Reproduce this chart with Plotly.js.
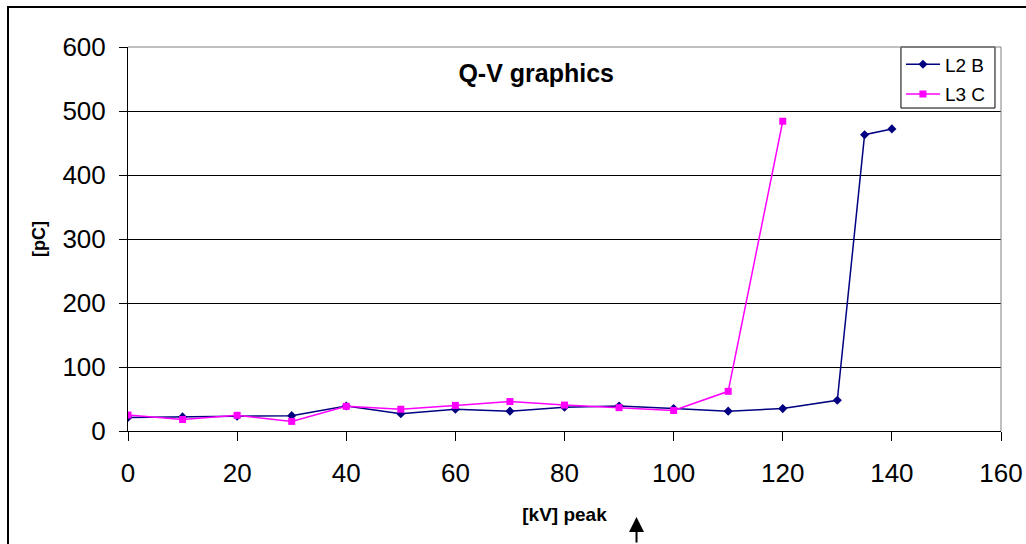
<!DOCTYPE html>
<html>
<head>
<meta charset="utf-8">
<script src="https://cdn.plot.ly/plotly-3.0.1.min.js"></script>
<style>
  html, body { margin: 0; padding: 0; background: #fff; overflow: hidden; }
  #wrap { position: relative; width: 1026px; height: 544px; }
  #chart { width: 1026px; height: 544px; }
  #frame { position: absolute; left: 7px; top: 6px; width: 1100px; height: 600px;
           border-left: 2px solid #000; border-top: 2px solid #000; pointer-events: none; }
</style>
</head>
<body>
<div id="wrap">
  <div id="chart"></div>
  <div id="frame"></div>
</div>
<script>
// Data
const xL2B = [0, 10, 20, 30, 40, 50, 60, 70, 80, 90, 100, 110, 120, 130, 135, 140];
const yL2B = [21, 22, 23, 24, 39, 27, 34, 31, 37, 39, 35, 31, 35, 48, 463, 472];
const xL3C = [0, 10, 20, 30, 40, 50, 60, 70, 80, 90, 100, 110, 120];
const yL3C = [25, 18, 24.5, 15, 38.5, 34, 40, 46, 40.5, 36.5, 32, 62, 484];
const xTickVals = [0, 20, 40, 60, 80, 100, 120, 140, 160];
const yTickVals = [0, 100, 200, 300, 400, 500, 600];
const chartTitle = 'Q-V graphics';
const xTitle = '[kV] peak';
const yTitle = '[pC]';

const FONT = 'Liberation Sans, Arial, sans-serif';

const traces = [
  {
    x: xL2B, y: yL2B, name: 'L2 B', type: 'scatter', mode: 'lines+markers',
    legendgroup: 'a',
    line: { color: '#000080', width: 1.5 },
    marker: { symbol: 'diamond', size: 7, color: '#000080', line: { width: 0 } }
  },
  {
    x: xL3C, y: yL3C, name: 'L3 C', type: 'scatter', mode: 'lines+markers',
    legendgroup: 'b',
    line: { color: '#FF00FF', width: 1.5 },
    marker: { symbol: 'square', size: 7, color: '#FF00FF', line: { width: 0 } }
  }
];

const layout = {
  width: 1026, height: 544,
  margin: { l: 128, r: 25, t: 47, b: 113, pad: 0 },
  paper_bgcolor: '#fff', plot_bgcolor: '#fff',
  font: { family: FONT, color: '#000' },
  title: {
    text: '<b>' + chartTitle + '</b>',
    font: { family: FONT, size: 25, color: '#000' },
    x: 0.4676, xref: 'paper', xanchor: 'center',
    y: 0.865, yref: 'container', yanchor: 'middle'
  },
  xaxis: {
    range: [0, 160], tickvals: xTickVals, ticktext: xTickVals.map(String),
    showgrid: false, zeroline: false,
    showline: true, linecolor: '#000', linewidth: 1,
    ticks: 'outside', ticklen: 9, tickcolor: '#000', tickwidth: 1,
    tickfont: { family: FONT, size: 26, color: '#000' },
    ticklabelstandoff: 10,
    title: { text: '<b>' + xTitle + '</b>', font: { family: FONT, size: 19, color: '#000' }, standoff: 20 },
    fixedrange: true
  },
  yaxis: {
    range: [0, 600], tickvals: yTickVals, ticktext: yTickVals.map(String),
    showgrid: true, gridcolor: '#000', gridwidth: 1, zeroline: false,
    showline: true, linecolor: '#000', linewidth: 1,
    ticks: 'outside', ticklen: 8, tickcolor: '#000', tickwidth: 1,
    tickfont: { family: FONT, size: 26, color: '#000' },
    ticklabelstandoff: 8,
    title: { text: '<b>' + yTitle + '</b>', font: { family: FONT, size: 18, color: '#000' }, standoff: 12 },
    fixedrange: true
  },
  legend: {
    x: 0.8854, xanchor: 'left', y: 1.004, yanchor: 'top',
    bgcolor: 'rgba(0,0,0,0)', borderwidth: 0,
    font: { family: FONT, size: 19, color: '#000' },
    itemwidth: 34, tracegroupgap: 2, traceorder: 'grouped'
  },
  shapes: [
    // legend box
    { type: 'rect', xref: 'paper', yref: 'paper', x0: 0.8854, x1: 0.9931, y0: 0.8411, y1: 1,
      line: { color: '#000', width: 1 }, fillcolor: '#fff', layer: 'above' },
    { type: 'line', xref: 'paper', yref: 'paper', x0: 0, x1: 1, y0: 1, y1: 1,
      line: { color: '#808080', width: 1 }, layer: 'above' },
    { type: 'line', xref: 'paper', yref: 'paper', x0: 1, x1: 1, y0: 0, y1: 1,
      line: { color: '#808080', width: 1 }, layer: 'above' }
  ],
  annotations: [
    { x: 93.2, xref: 'x', y: -0.224, yref: 'paper', text: '', showarrow: true,
      ax: 0, ay: 40, arrowhead: 2, arrowwidth: 2, arrowsize: 1.5, arrowcolor: '#000' }
  ]
};

Plotly.newPlot('chart', traces, layout, { displayModeBar: false, staticPlot: true });
</script>
</body>
</html>
